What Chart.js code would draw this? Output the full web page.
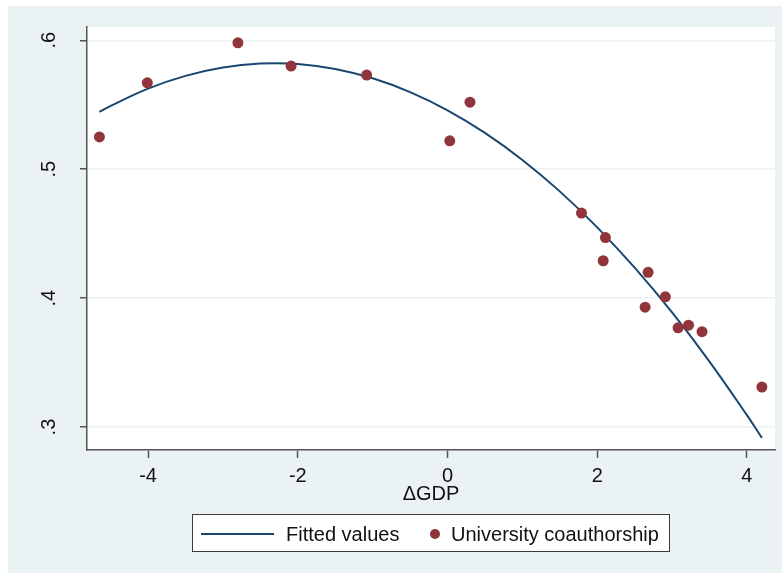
<!DOCTYPE html>
<html>
<head>
<meta charset="utf-8">
<script src="https://cdn.jsdelivr.net/npm/chart.js@4/dist/chart.umd.min.js"></script>
<style>
  html, body { margin: 0; padding: 0; background: #ffffff; width: 782px; height: 573px; overflow: hidden; }
  #frame { position: absolute; left: 8px; top: 6px; width: 774px; height: 567px; background: #EAF2F3; }
  #c { position: absolute; left: 0; top: 0; }
  #legend { position: absolute; left: 192px; top: 514px; width: 476px; height: 36px; border: 1px solid #3a3a3a; background: #ffffff;
            font-family: 'Liberation Sans', Arial, sans-serif; font-size: 20px; color: #111; }
  #legend .sw-line { position: absolute; left: 8px; top: 18px; width: 73px; height: 2px; background: #1a476f; }
  #legend .t1 { position: absolute; left: 93px; top: 0; line-height: 38px; }
  #legend .sw-dot { position: absolute; left: 237px; top: 14px; width: 10px; height: 10px; border-radius: 50%; background: #90353b; }
  #legend .t2 { position: absolute; left: 258px; top: 0; line-height: 38px; }
</style>
</head>
<body>
<div id="frame"><canvas id="c" width="774" height="567"></canvas></div>
<div id="legend">
  <span class="sw-line"></span><span class="t1">Fitted values</span>
  <span class="sw-dot"></span><span class="t2">University coauthorship</span>
</div>
<script>
// Observed points (ΔGDP, University coauthorship)
const gdpChange = [-4.65, -4.01, -2.80, -2.09, -1.08, 0.03, 0.30, 1.79, 2.11, 2.08, 2.68, 2.91, 2.64, 3.08, 3.22, 3.40, 4.20];
const coauthorship = [0.525, 0.567, 0.598, 0.580, 0.573, 0.522, 0.552, 0.466, 0.447, 0.429, 0.420, 0.401, 0.393, 0.377, 0.379, 0.374, 0.331];

// Fitted values
const fitX = [-4.65, -4.5, -4.0, -3.5, -3.0, -2.5, -2.0, -1.5, -1.0, -0.5, 0.0, 0.5, 1.0, 1.5, 2.0, 2.5, 3.0, 3.5, 4.0, 4.2];
const fitY = [0.5444, 0.5491, 0.5625, 0.5724, 0.5789, 0.5819, 0.5816, 0.5778, 0.5705, 0.5598, 0.5457, 0.5282, 0.5072, 0.4828, 0.4549, 0.4236, 0.3889, 0.3508, 0.3092, 0.2916];

// Axis ticks
const xTicks = [-4, -2, 0, 2, 4];
const yTicks = [0.3, 0.4, 0.5, 0.6];
const yTickLabels = ['.3', '.4', '.5', '.6'];
const xTitle = '\u0394GDP';

const FONT = "'Liberation Sans', Arial, sans-serif";

const plotBg = {
  id: 'plotBg',
  beforeDraw(chart) {
    const {ctx, chartArea: a} = chart;
    ctx.save();
    ctx.fillStyle = '#ffffff';
    ctx.fillRect(a.left, a.top, a.right - a.left, a.bottom - a.top);
    ctx.restore();
  }
};

new Chart(document.getElementById('c'), {
  type: 'scatter',
  data: {
    datasets: [
      {
        label: 'Fitted values',
        data: fitX.map((x, i) => ({x, y: fitY[i]})),
        showLine: true,
        borderColor: '#1a476f',
        borderWidth: 2,
        pointRadius: 0,
        tension: 0.4,
        order: 2
      },
      {
        label: 'University coauthorship',
        data: gdpChange.map((x, i) => ({x, y: coauthorship[i]})),
        backgroundColor: '#90353b',
        borderColor: '#90353b',
        borderWidth: 0,
        pointRadius: 5.5,
        order: 1
      }
    ]
  },
  options: {
    responsive: false,
    animation: false,
    layout: { padding: { top: 21, right: 7, left: 0, bottom: 63 } },
    plugins: { legend: { display: false }, tooltip: { enabled: false } },
    scales: {
      x: {
        type: 'linear',
        min: -4.816,
        max: 4.375,
        afterBuildTicks: s => { s.ticks = xTicks.map(v => ({value: v})); },
        afterFit: s => { s.height = 60; s.paddingLeft = 0; s.paddingRight = 0; },
        ticks: { color: '#111', font: { family: FONT, size: 20 }, padding: 6, maxRotation: 0, minRotation: 0 },
        grid: { drawOnChartArea: false, tickLength: 8, tickColor: '#555', tickWidth: 1.5 },
        border: { color: '#555', width: 1.5 },
        title: { display: true, text: xTitle, color: '#111', font: { family: FONT, size: 20 }, padding: { top: 0, bottom: 4 } }
      },
      y: {
        type: 'linear',
        min: 0.2822,
        max: 0.6103,
        afterBuildTicks: s => { s.ticks = yTicks.map(v => ({value: v})); },
        afterFit: s => { s.width = 79; s.paddingTop = 0; s.paddingBottom = 0; },
        ticks: {
          color: '#111', font: { family: FONT, size: 20 }, padding: 22,
          minRotation: 90, maxRotation: 90, crossAlign: 'center',
          callback: (v) => { const i = yTicks.findIndex(t => Math.abs(t - v) < 1e-9); return i >= 0 ? yTickLabels[i] : ''; }
        },
        grid: { color: '#EAF2F3', lineWidth: 1.5, tickLength: 7, tickColor: '#555', tickWidth: 1.5 },
        border: { color: '#555', width: 1.5 }
      }
    }
  },
  plugins: [plotBg]
});
</script>
</body>
</html>
